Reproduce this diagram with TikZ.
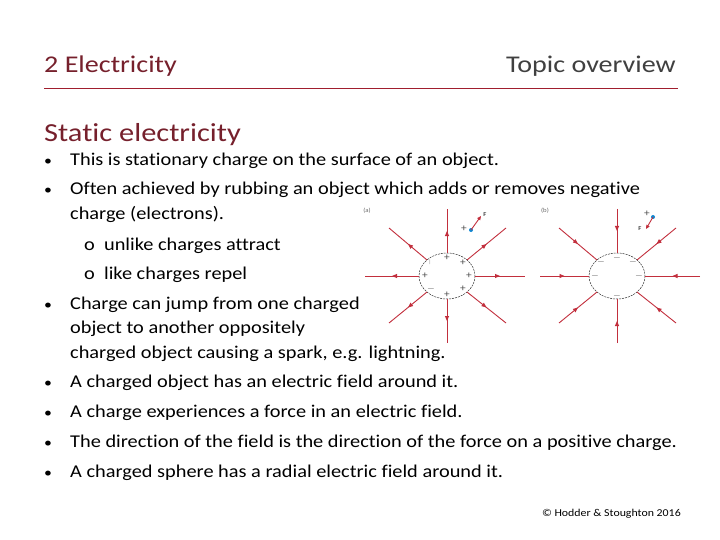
\documentclass[tikz,border=0pt]{standalone}
\usepackage{fontspec}
\setmainfont{Carlito}[FakeStretch=1.13,Ligatures=NoCommon]
\newfontfamily\wide{Carlito}[FakeStretch=1.17,Ligatures=NoCommon]
\usetikzlibrary{decorations.markings,arrows.meta}
\definecolor{fl}{HTML}{C22F3D}
\definecolor{hr}{HTML}{A01E2E}
\definecolor{tr}{HTML}{76202C}
\begin{document}
\begin{tikzpicture}[x=1pt,y=-1pt,
  txt/.style={anchor=base west,inner sep=0pt,font=\fontsize{18}{20}\selectfont},
  bul/.style={anchor=base west,inner sep=0pt,font=\fontsize{14}{16}\selectfont},
  fline/.style={fl,line width=0.9pt,postaction={decorate},decoration={markings,mark=at position 0.5 with {\arrow{Triangle[length=5pt,width=4pt]}}}},
  sgn/.style={font=\fontsize{10}{10}\selectfont,text=black!70,inner sep=0pt}]
\useasboundingbox (0,0) rectangle (720,540);
\node[anchor=base west,inner sep=0pt,font=\wide\fontsize{24}{26}\selectfont,text=tr] (t1) at (44,73) {2 Electricity};
\node[anchor=base east,inner sep=0pt,font=\wide\fontsize{24}{26}\selectfont,text=black!75] (t2) at (676,73) {Topic overview};
\draw[hr,line width=1pt] (44,89) -- (678,89);
\node[anchor=base west,inner sep=0pt,font=\wide\fontsize{26}{28}\selectfont,text=tr] (st) at (44,142) {Static electricity};
\foreach \y/\t in {166/{This is stationary charge on the surface of an object.},195/{Often achieved by rubbing an object which adds or removes negative},309/{Charge can jump from one charged},387/{A charged object has an electric field around it.},417/{A charge experiences a force in an electric field.},447/{The direction of the field is the direction of the force on a positive charge.},477/{A charged sphere has a radial electric field around it.}}{
  \node[bul] at (44,\y) {•}; \node[txt] at (70,\y) {\t};}
\node[txt] at (70,220) {charge (electrons).};
\node[txt] at (70,333) {object to another oppositely};
\node[txt] at (70,358) {charged object causing a spark, e.g. lightning.};
\node[txt] at (84,250) {o\ \ unlike charges attract};
\node[txt] at (84,279) {o\ \ like charges repel};
\node[anchor=base east,inner sep=0pt,font=\fontsize{10.5}{12}\selectfont] (cp) at (681,516) {© Hodder \& Stoughton 2016};
% (a)
\coordinate (A) at (447,276);
\node[font=\fontsize{6}{6}\selectfont,text=black!60] (la) at (367,211) {(a)};
\draw[dash pattern=on 2pt off 1pt,black!80,line width=0.5pt] (A) ellipse (28 and 23);
\draw[fline] (475,276) -- (525,276);
\draw[fline] (419,276) -- (365,276);
\draw[fline] (447,253) -- (447,209);
\draw[fline] (447,299) -- (447,343);
\draw[fline] (467,260) -- (506,228);
\draw[fline] (427,260) -- (389,228);
\draw[fline] (427,292) -- (389,323);
\draw[fline] (467,292) -- (506,323);
\foreach \p/\s in {{447,258}/+,{463,263}/+,{469,276}/+,{463,289}/+,{447,295}/+,{425,276}/+,{431,289}/$-$,{430,262}/{$\scriptscriptstyle|$}}{\node[sgn] at (\p) {\s};}
\node[sgn] at (464,229) {+};
\fill[cyan!70!blue] (471,230) circle (2pt);
\draw[fl,line width=0.9pt,-{Triangle[length=4pt,width=3.5pt]}] (471,230) -- (481,216);
\node[font=\fontsize{6}{6}\selectfont] at (485,215) {F};
% (b)
\coordinate (B) at (617,276);
\node[font=\fontsize{6}{6}\selectfont,text=black!60] (lb) at (545,211) {(b)};
\draw[dash pattern=on 2pt off 1pt,black!80,line width=0.5pt] (B) ellipse (28 and 23);
\draw[fline] (700,276) -- (645,276);
\draw[fline] (540,276) -- (589,276);
\draw[fline] (617,209) -- (617,253);
\draw[fline] (617,343) -- (617,299);
\draw[fline] (676,228) -- (637,260);
\draw[fline] (559,228) -- (597,260);
\draw[fline] (559,323) -- (597,292);
\draw[fline] (676,323) -- (637,292);
\foreach \p in {{617,258},{633,262},{639,276},{601,262},{595,276},{617,296}}{\node[sgn] at (\p) {$-$};}
\node[sgn] at (647,214) {+};
\fill[cyan!70!blue] (653,217) circle (2pt);
\draw[fl,line width=0.9pt,-{Triangle[length=4pt,width=3.5pt]}] (653,217) -- (646,229);
\node[font=\fontsize{6}{6}\selectfont] at (640,229) {F};
\end{tikzpicture}
\end{document}
